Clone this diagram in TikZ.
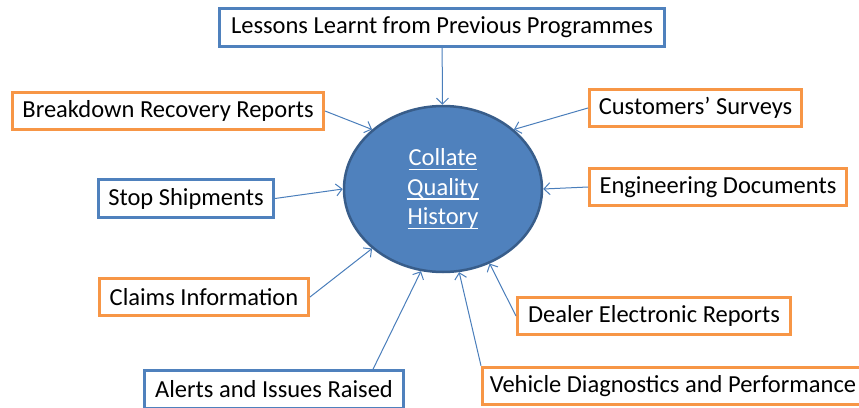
\documentclass[tikz,border=0pt]{standalone}
\usepackage{fontspec}
\setmainfont{Carlito}
\usetikzlibrary{arrows.meta,shapes.geometric}
\definecolor{boxblue}{RGB}{79,129,189}
\definecolor{boxorange}{RGB}{247,150,70}
\definecolor{hubedge}{RGB}{56,93,138}
\definecolor{arrowblue}{RGB}{74,126,187}
\newcommand{\ulword}[1]{\setbox0\hbox{#1}\rlap{\rule[-4.5pt]{\wd0}{1.6pt}}\box0}
\tikzset{
  source/.style={draw, line width=3pt, fill=white, minimum height=37.5pt,
    inner sep=0pt, font=\fontsize{24.5}{28}\selectfont},
  bluesrc/.style={source, draw=boxblue},
  orangesrc/.style={source, draw=boxorange},
  feed/.style={->, draw=arrowblue, line width=1pt},
  >={Straight Barb[length=6pt,width=12pt]}
}
\begin{document}
\begin{tikzpicture}[x=1pt,y=-1pt]
\useasboundingbox (0,0) rectangle (859,407);

\node[ellipse, draw=hubedge, fill=boxblue, line width=2.5pt, inner sep=0pt,
  minimum width=198pt, minimum height=166pt, text=white, align=center,
  font=\fontsize{24.5}{29.5}\selectfont] (hub) at (443,189)
  {\ulword{Collate}\\\ulword{Quality}\\\ulword{History}};

\node[bluesrc, minimum width=445pt] (lessons) at (442,27.5) {Lessons Learnt from Previous Programmes};
\node[orangesrc, minimum width=311pt] (breakdown) at (168,111) {Breakdown Recovery Reports};
\node[orangesrc, minimum width=212pt] (customers) at (695.5,108) {Customers’ Surveys};
\node[orangesrc, minimum width=257pt] (engineering) at (718,187) {Engineering Documents};
\node[bluesrc, minimum width=175pt] (stop) at (186,198.5) {Stop Shipments};
\node[orangesrc, minimum width=209pt] (claims) at (204,297) {Claims Information};
\node[bluesrc, minimum width=259pt] (alerts) at (274,389.5) {Alerts and Issues Raised};
\node[orangesrc, minimum width=273pt] (dealer) at (654,316) {Dealer Electronic Reports};
\node[orangesrc, minimum width=381pt] (vehicle) at (673,386) {Vehicle Diagnostics and Performance};

% inputs into the hub
\draw[feed] (lessons) -- (hub);
\draw[feed] (breakdown.east) -- (hub.140);
\draw[feed] (customers.west) -- (hub.40);
\draw[feed] (engineering.west) -- (hub.east);
\draw[feed] (stop.east) -- (hub.west);
\draw[feed] (claims.east) -- (hub.220);
\draw[feed] ([xshift=99pt]alerts.north) -- (hub.255);
\draw[feed] (dealer.west) -- (hub.302);
\draw[feed] (vehicle.north west) -- (hub.281);
\end{tikzpicture}
\end{document}
